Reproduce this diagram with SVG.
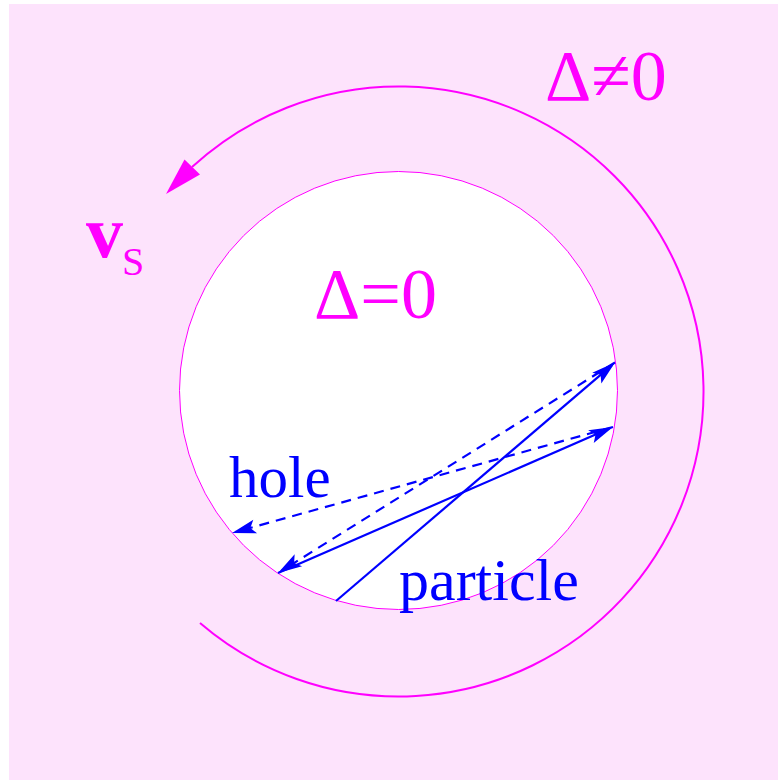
<svg xmlns="http://www.w3.org/2000/svg" width="778" height="780" viewBox="0 0 778 780">
  <style>
    .mag { fill: #FF00FF; font-family: "Liberation Serif", "Times New Roman", serif; }
    .blu { fill: #0000FF; font-family: "Liberation Serif", "Times New Roman", serif; }
    .path { fill: none; stroke: #0000FF; stroke-width: 2.2; }
    .dash { stroke-dasharray: 10 7; }
  </style>
  <defs>
    <marker id="ah" markerUnits="userSpaceOnUse" orient="auto" refX="0" refY="0" markerWidth="30" markerHeight="20" overflow="visible">
      <path d="M4,0 L-20,-7 L-15,0 L-20,7 Z" fill="#0000FF"/>
    </marker>
  </defs>
  <rect id="background" x="9" y="4" width="769" height="776" fill="#FDE3FC"/>
  <g id="superconductor">
    <path d="M 200 623 A 305 305 0 1 0 192 167" fill="none" stroke="#FF00FF" stroke-width="2"/>
    <polygon points="166,194 184.5,159.5 200,174.5" fill="#FF00FF"/>
  </g>
  <g id="normal-region">
    <circle cx="398.5" cy="390.5" r="219" fill="#FFFFFF" stroke="#FF00FF" stroke-width="1"/>
  </g>
  <g id="connectors">
    <path class="path" d="M336,601 L612,365.1" marker-end="url(#ah)"/>
    <path class="path dash" d="M615,362.5 L281.4,570.9" marker-end="url(#ah)"/>
    <path class="path" d="M278,573 L609.3,428.6" marker-end="url(#ah)"/>
    <path class="path dash" d="M613,427 L235.9,531.9" marker-end="url(#ah)"/>
  </g>
  <g id="labels">
    <text class="mag" x="545" y="100" font-size="72">Δ≠0</text>
    <text class="mag" x="314" y="318" font-size="72">Δ=0</text>
    <text class="mag" x="86" y="257" font-size="74" font-weight="bold">v</text>
    <text class="mag" x="122" y="275" font-size="40">S</text>
    <text class="blu" x="229" y="497" font-size="59">hole</text>
    <text class="blu" x="399" y="600" font-size="60">particle</text>
  </g>
</svg>
